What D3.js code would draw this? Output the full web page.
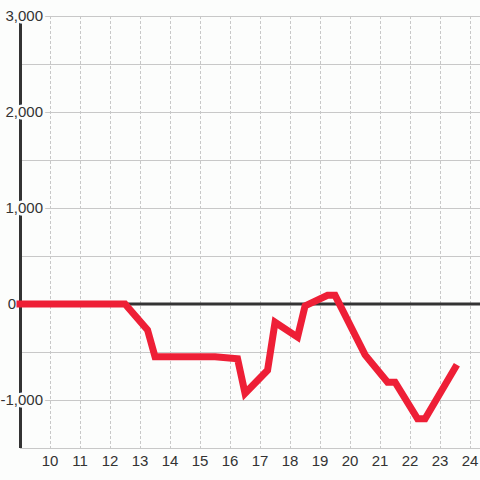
<!DOCTYPE html>
<html>
<head>
<meta charset="utf-8">
<script src="https://cdn.jsdelivr.net/npm/d3@7"></script>
<style>
  html, body { margin: 0; padding: 0; background: #fcfdfc; }
  text { font-family: "Liberation Sans", Arial, sans-serif; }
</style>
</head>
<body>
<div id="chart"></div>
<script>
// hours of the day and the value at each of them
let hours = [9, 10, 11, 12, 12.5, 13.25, 13.5, 14.5, 15.5, 16.25, 16.5, 17.25, 17.5, 18.25, 18.5, 19.25, 19.5, 20.5, 21.25, 21.5, 22.25, 22.5, 23.5];
let values = [0, 0, 0, 0, 0, -270, -550, -550, -550, -570, -930, -690, -190, -345, -20, 90, 90, -530, -815, -815, -1195, -1195, -665];

let xTicks = [10, 11, 12, 13, 14, 15, 16, 17, 18, 19, 20, 21, 22, 23, 24];
let yGrid = [-1500, -1000, -500, 0, 500, 1000, 1500, 2000, 2500, 3000];
let yLabels = [-1000, 0, 1000, 2000, 3000];

let width = 480, height = 480;
let bg = "#fcfdfc";

let svg = d3.select("#chart")
  .append("svg")
  .attr("width", width)
  .attr("height", height);

let x = d3.scaleLinear().domain([9, 24.33]).range([20, 480]);
let y = d3.scaleLinear().domain([-1500, 3000]).range([448, 16]);

// horizontal grid
svg.append("g")
  .selectAll("line")
  .data(yGrid)
  .join("line")
  .attr("x1", x(9)).attr("x2", width)
  .attr("y1", d => y(d)).attr("y2", d => y(d))
  .attr("stroke", "#c8c8c8")
  .attr("stroke-width", 1)
  .attr("shape-rendering", "crispEdges");

// vertical dashed grid
svg.append("g")
  .selectAll("line")
  .data(xTicks)
  .join("line")
  .attr("x1", d => Math.round(x(d)) + 0.5).attr("x2", d => Math.round(x(d)) + 0.5)
  .attr("y1", y(3000)).attr("y2", y(-1500))
  .attr("stroke", "#c8c8c8")
  .attr("stroke-width", 1)
  .attr("stroke-dasharray", "3,2");

// zero line
svg.append("line")
  .attr("x1", x(9)).attr("x2", width)
  .attr("y1", y(0)).attr("y2", y(0))
  .attr("stroke", "#333")
  .attr("stroke-width", 3);

// y axis line
svg.append("line")
  .attr("x1", 20.5).attr("x2", 20.5)
  .attr("y1", y(3000)).attr("y2", y(-1500))
  .attr("stroke", "#333")
  .attr("stroke-width", 3);

// y labels with halo (zero label sits left of the axis)
let fmt = d3.format(",");
svg.append("g")
  .selectAll("text")
  .data(yLabels)
  .join("text")
  .attr("x", d => d === 0 ? 16 : 43)
  .attr("y", d => y(d))
  .attr("dy", "0.35em")
  .attr("text-anchor", "end")
  .attr("font-size", 15)
  .attr("fill", "#333")
  .attr("stroke", bg)
  .attr("stroke-width", 5)
  .attr("paint-order", "stroke")
  .text(d => fmt(d).replace("−", "-"));

// data line
let line = d3.line()
  .x((d, i) => x(hours[i]))
  .y(d => y(d));

svg.append("path")
  .datum(values)
  .attr("d", line)
  .attr("fill", "none")
  .attr("stroke", "#ee1f36")
  .attr("stroke-width", 7)
  .attr("stroke-linecap", "square")
  .attr("stroke-linejoin", "miter");

// x labels
svg.append("g")
  .selectAll("text")
  .data(xTicks)
  .join("text")
  .attr("x", d => x(d))
  .attr("y", 466)
  .attr("text-anchor", "middle")
  .attr("font-size", 15)
  .attr("fill", "#333")
  .text(d => d);
</script>
</body>
</html>
